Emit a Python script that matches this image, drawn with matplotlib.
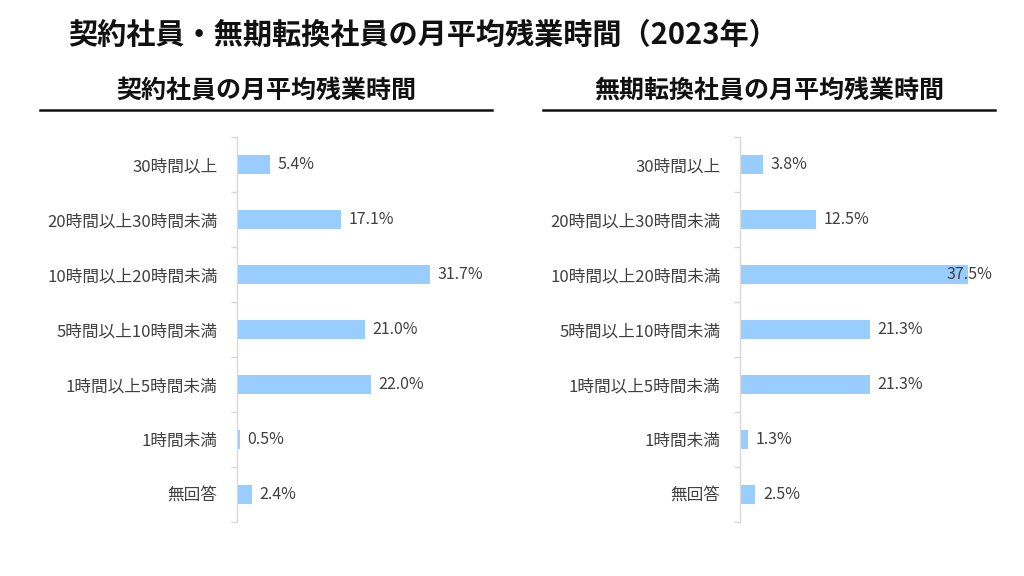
import matplotlib
matplotlib.use("Agg")
import matplotlib.pyplot as plt
from matplotlib.transforms import offset_copy

plt.rcParams['font.family'] = ['Noto Sans CJK JP', 'DejaVu Sans']

categories = ["30時間以上", "20時間以上30時間未満", "10時間以上20時間未満",
              "5時間以上10時間未満", "1時間以上5時間未満", "1時間未満", "無回答"]
contract_vals = [5.4, 17.1, 31.7, 21.0, 22.0, 0.5, 2.4]
indefinite_vals = [3.8, 12.5, 37.5, 21.3, 21.3, 1.3, 2.5]

main_title = "契約社員・無期転換社員の月平均残業時間（2023年）"
left_title = "契約社員の月平均残業時間"
right_title = "無期転換社員の月平均残業時間"

W, H = 1024, 576
fig = plt.figure(figsize=(W / 100, H / 100), dpi=100)

BAR_COLOR = "#99ccff"
AX_COLOR = "#d9d9d9"
TXT = "#404040"

def px_rect(x0, y0, x1, y1):
    return [x0 / W, 1 - y1 / H, (x1 - x0) / W, (y1 - y0) / H]

fig.text(68 / W, 1 - 35 / H, main_title, fontsize=21, fontweight="bold",
         ha="left", va="center", color="#111111")

def panel(ax_x0, vals, title, line_x0, line_x1):
    ax = fig.add_axes(px_rect(ax_x0, 137, ax_x0 + 6.09 * 40, 522))
    n = len(categories)
    ys = list(range(n))
    ax.barh(ys, vals, height=0.36, color=BAR_COLOR)
    ax.set_ylim(n - 0.5, -0.5)
    ax.set_xlim(0, 40)
    for s in ["top", "right", "bottom"]:
        ax.spines[s].set_visible(False)
    ax.spines["left"].set_color(AX_COLOR)
    ax.spines["left"].set_linewidth(1.0)
    ax.set_xticks([])
    ax.set_yticks([i - 0.5 for i in range(n + 1)])
    ax.set_yticklabels([])
    ax.tick_params(axis="y", length=4, color=AX_COLOR, width=1.0)
    ax.set_yticks(ys, minor=True)
    ax.set_yticklabels(categories, minor=True, fontsize=12, color=TXT)
    ax.tick_params(axis="y", which="minor", length=0, pad=14)
    for y, v in zip(ys, vals):
        tr = offset_copy(ax.transData, fig=fig, x=5.5, y=0, units="points")
        ax.text(min(v, 32.6), y, f"{v:.1f}%", transform=tr, fontsize=11.5,
                color=TXT, ha="left", va="center")
    cx = (line_x0 + line_x1) / 2
    fig.text(cx / W, 1 - 91 / H, title, fontsize=18, fontweight="bold",
             ha="center", va="center", color="#111111")
    fig.add_artist(plt.Line2D([line_x0 / W, line_x1 / W], [1 - 110 / H, 1 - 110 / H],
                              color="#111111", linewidth=1.8))
    return ax

panel(237, contract_vals, left_title, 40, 492)
panel(740, indefinite_vals, right_title, 543, 995)

fig.savefig("out.png", dpi=100, facecolor="white")
